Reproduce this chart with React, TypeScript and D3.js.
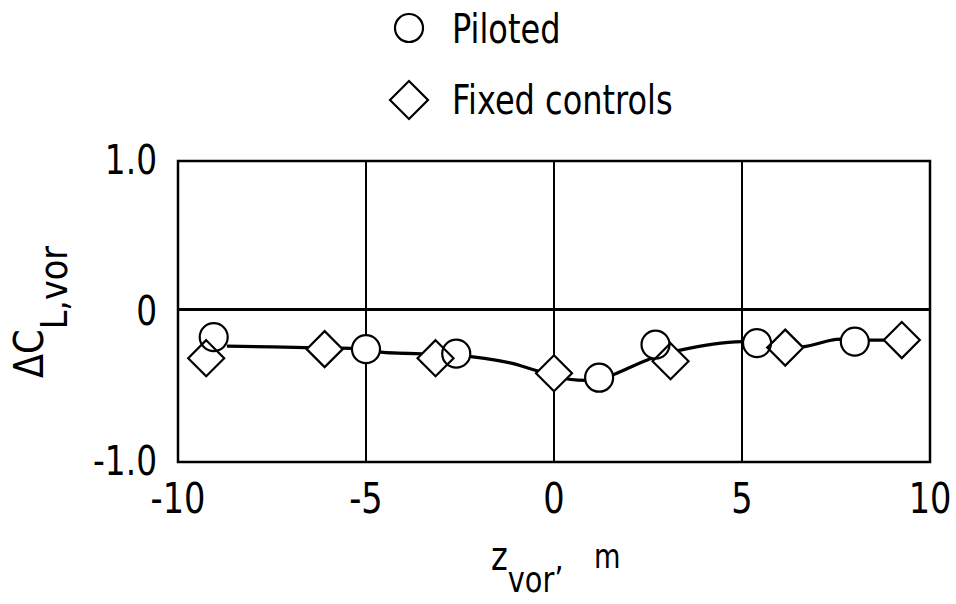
import React from "react";
import * as d3 from "d3";

// ---- data ----
const pilotedZ = [-9.05, -5.0, -2.6, 1.2, 2.7, 5.4, 8.0];
const pilotedDCL = [-0.17, -0.25, -0.28, -0.44, -0.22, -0.21, -0.2];
const fixedZ = [-9.25, -6.1, -3.15, 0, 3.1, 6.15, 9.25];
const fixedDCL = [-0.31, -0.25, -0.31, -0.41, -0.33, -0.24, -0.19];
const fairingZ = [-8.7, -6.6, -5.0, -4.6, -2.6, -1.2, -0.5, 0.4, 1.2, 2.5, 3.3, 5.0, 6.6, 7.5, 8.35, 9.25];
const fairingDCL = [-0.23, -0.24, -0.25, -0.27, -0.29, -0.34, -0.39, -0.45, -0.45, -0.32, -0.26, -0.2, -0.235, -0.185, -0.19, -0.19];
const xTicks = [-10, -5, 0, 5, 10];
const xTickLabels = ["-10", "-5", "0", "5", "10"];
const yTicks = [1, 0, -1];
const yTickLabels = ["1.0", "0", "-1.0"];
const xGrid = [-5, 0, 5];
const yGrid = [0];
const legendLabels = ["Piloted", "Fixed controls"];

const W = 956;
const H = 604;
const FONT = "'DejaVu Sans', 'Liberation Sans', sans-serif";
const SX = 0.8;

const x = d3.scaleLinear().domain([-10, 10]).range([178, 930]);
const y = d3.scaleLinear().domain([-1, 1]).range([462, 161]);

const R = 14;
const D = 18;
const diamondPath = (cx: number, cy: number, h: number) =>
  `M${cx},${cy - h}L${cx + h},${cy}L${cx},${cy + h}L${cx - h},${cy}Z`;

function T({ x: tx, y: ty, size, anchor = "start", children, rot = 0, sx = SX }: any) {
  return (
    <g transform={`translate(${tx},${ty}) rotate(${rot}) scale(${sx},1)`}>
      <text x={0} y={0} fontFamily={FONT} fontSize={size} textAnchor={anchor} fill="#000">
        {children}
      </text>
    </g>
  );
}

export default function App() {
  const fairing = fairingZ.map((z, i) => [z, fairingDCL[i]] as [number, number]);
  const line = d3
    .line<[number, number]>()
    .x((d) => x(d[0]))
    .y((d) => y(d[1]))
    .curve(d3.curveCatmullRom.alpha(0.5));

  const piloted = pilotedZ.map((z, i) => ({ cx: x(z), cy: y(pilotedDCL[i]) }));
  const fixed = fixedZ.map((z, i) => ({ cx: x(z), cy: y(fixedDCL[i]) }));

  return (
    <svg
      width={W}
      height={H}
      style={{ position: "absolute", left: 0, top: 0, background: "#fff" }}
    >
      <rect x={0} y={0} width={W} height={H} fill="#fff" />
      {/* grid */}
      {xGrid.map((g) => (
        <line key={"gx" + g} x1={x(g)} x2={x(g)} y1={y(1)} y2={y(-1)} stroke="#000" strokeWidth={2} />
      ))}
      {yGrid.map((g) => (
        <line key={"gy" + g} x1={x(-10)} x2={x(10)} y1={y(g) - 2} y2={y(g) - 2} stroke="#000" strokeWidth={3} />
      ))}
      {/* frame */}
      <rect
        x={x(-10)}
        y={y(1)}
        width={x(10) - x(-10)}
        height={y(-1) - y(1)}
        fill="none"
        stroke="#000"
        strokeWidth={2.5}
      />
      {/* fairing */}
      <path d={line(fairing) || ""} fill="none" stroke="#000" strokeWidth={3.2} />
      {/* marker fills */}
      {piloted.map((p, i) => (
        <circle key={"pf" + i} cx={p.cx} cy={p.cy} r={R} fill="#fff" />
      ))}
      {fixed.map((p, i) => (
        <path key={"ff" + i} d={diamondPath(p.cx, p.cy, D)} fill="#fff" />
      ))}
      {/* marker outlines */}
      {piloted.map((p, i) => (
        <circle key={"po" + i} cx={p.cx} cy={p.cy} r={R} fill="none" stroke="#000" strokeWidth={2.2} />
      ))}
      {fixed.map((p, i) => (
        <path key={"fo" + i} d={diamondPath(p.cx, p.cy, D)} fill="none" stroke="#000" strokeWidth={2.2} strokeLinejoin="miter" />
      ))}
      {/* x tick labels */}
      {xTicks.map((t, i) => (
        <T key={"xt" + t} x={x(t)} y={513} size={42} anchor="middle">
          {xTickLabels[i]}
        </T>
      ))}
      {/* y tick labels */}
      {yTicks.map((t, i) => (
        <T key={"yt" + t} x={157} y={y(t) + 13} size={41} anchor="end">
          {yTickLabels[i]}
        </T>
      ))}
      {/* y axis title */}
      <T x={43} y={378} size={40} rot={-90} sx={0.88}>
        ΔC
        <tspan dy={24} fontSize={38}>L,vor</tspan>
      </T>
      {/* x axis title */}
      <T x={491} y={570} size={40}>
        z
        <tspan dy={22} fontSize={36}>vor’</tspan>
      </T>
      <T x={594} y={568} size={34}>
        m
      </T>
      {/* legend */}
      <circle cx={409} cy={28} r={14} fill="none" stroke="#000" strokeWidth={2.2} />
      <T x={452} y={43} size={40}>
        {legendLabels[0]}
      </T>
      <path d={diamondPath(409, 100, 19)} fill="none" stroke="#000" strokeWidth={2.2} />
      <T x={452} y={114} size={40}>
        {legendLabels[1]}
      </T>
    </svg>
  );
}
